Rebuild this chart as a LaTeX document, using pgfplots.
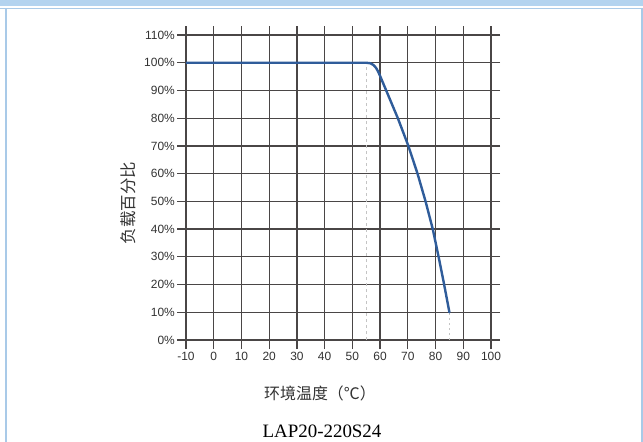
\documentclass[border=0pt]{standalone}
\usepackage{pgfplots}
\pgfplotsset{compat=1.18}
\usepackage{fontspec}
\setmainfont{Liberation Sans}
\newfontfamily\cjk{Noto Sans CJK SC}
\newfontfamily\capfont{Liberation Serif}
\definecolor{barblue}{HTML}{B3D3EF}
\definecolor{edgeblue}{HTML}{A9CAE8}
\definecolor{gridc}{HTML}{4A4646}
\definecolor{curvec}{HTML}{2F5C9A}
\definecolor{labelc}{HTML}{333333}
\definecolor{refc}{HTML}{C4C4C4}

\begin{document}
\begin{tikzpicture}
\path[use as bounding box, fill=white] (0,0) rectangle (643bp,-442bp);
% frame of the page
\fill[barblue] (0,0) rectangle (643bp,-6bp);
\fill[edgeblue] (0,-7.7bp) rectangle (643bp,-9.3bp);
\fill[edgeblue] (5.3bp,-7.7bp) rectangle (7.3bp,-442bp);
\fill[edgeblue] (641bp,-7.7bp) rectangle (643bp,-442bp);

\begin{axis}[
    scale only axis,
    width=305bp, height=305bp,
    at={(186bp,-340bp)}, anchor=south west,
    xmin=-10, xmax=100, ymin=0, ymax=110,
    xtick={-10,0,10,20,30,40,50,60,70,80,90,100},
    xticklabels={-10,0,10,20,30,40,50,60,70,80,90,100},
    ytick={0,10,20,30,40,50,60,70,80,90,100,110},
    yticklabels={0\%,10\%,20\%,30\%,40\%,50\%,60\%,70\%,80\%,90\%,100\%,110\%},
    grid=major,
    grid style={gridc, line width=1.2bp},
    axis line style={gridc, line width=1.2bp},
    tick style={gridc, line width=1.2bp},
    tick align=outside,
    major tick length=9bp,
    ticklabel style={font=\fontsize{12}{12}\selectfont, text=labelc},
    yticklabel style={inner sep=2bp},
    xticklabel style={inner sep=3bp},
]
% reference lines at 55 and 85
\addplot[refc, line width=1bp, dash pattern=on 3bp off 3bp] coordinates {(55,0)(55,100)};
\addplot[refc, line width=1bp, dash pattern=on 2bp off 3bp] coordinates {(85,0)(85,10)};
% derating curve
\addplot[curvec, line width=2.4bp, line join=round, line cap=round] coordinates {
    (-10,100)(55,100)(56.5,99.8)(57.6,99.2)(58.5,98.2)(59.3,96.8)(60.1,95)
    (62.2,90)(66.4,80)(70.2,70)(73.5,60)(76.4,50)(79,40)(81.1,30)(83.1,20)(85,10)
};
\node[text=gray, font=\fontsize{8}{8}\selectfont, inner sep=0pt] at (axis cs:54.2,-2.4) {55};
\node[text=gray, font=\fontsize{8}{8}\selectfont, inner sep=0pt] at (axis cs:84.2,-2.4) {85};
\end{axis}

\node[text=labelc, font=\fontsize{16}{16}\selectfont\cjk] at (320bp,-393bp) {环境温度（℃）};
\node[text=labelc, font=\fontsize{16.5}{16.5}\selectfont\cjk, rotate=90] at (128bp,-203bp) {负载百分比};
\node[text=black, font=\fontsize{19}{19}\selectfont\capfont] at (322bp,-431bp) {LAP20-220S24};
\end{tikzpicture}
\end{document}
